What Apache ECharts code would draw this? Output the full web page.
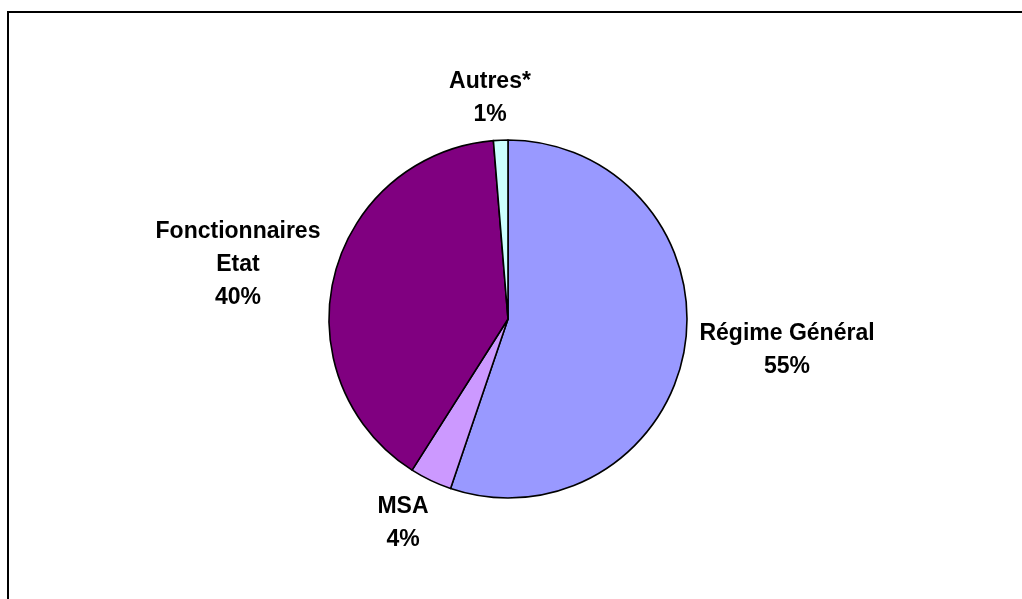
<!DOCTYPE html>
<html>
<head>
<meta charset="utf-8">
<script src="https://cdn.jsdelivr.net/npm/echarts@6/dist/echarts.min.js"></script>
<style>
  html, body { margin: 0; padding: 0; background: #fff; }
  #chart { width: 1022px; height: 599px; }
</style>
</head>
<body>
<div id="chart"></div>
<script>
// Répartition par régime
const categories = ['Régime Général', 'MSA', 'Fonctionnaires\nEtat', 'Autres*'];
const values = [55.2, 3.8, 39.7, 1.3];
const colors = ['#9999FF', '#CC99FF', '#800080', '#CCFFFF'];

// Label block centres (layout only)
const labelPos = [[787, 350], [403, 523], [238, 265], [490, 98]];

const chart = echarts.init(document.getElementById('chart'), null, { renderer: 'canvas' });

chart.setOption({
  animation: false,
  backgroundColor: '#ffffff',
  graphic: [{
    type: 'rect',
    shape: { x: 8, y: 12, width: 1040, height: 620 },
    style: { fill: 'none', stroke: '#000', lineWidth: 2 },
    silent: true
  }],
  series: [{
    type: 'pie',
    center: [508, 319],
    radius: 179,
    startAngle: 90,
    clockwise: true,
    data: categories.map((c, i) => ({ name: c, value: values[i], itemStyle: { color: colors[i] } })),
    itemStyle: { borderColor: '#000', borderWidth: 1.6 },
    label: {
      show: true,
      position: 'outside',
      formatter: p => p.name + '\n' + Math.round(p.percent) + '%',
      fontFamily: 'Liberation Sans, Arial, sans-serif',
      fontWeight: 'bold',
      fontSize: 23,
      lineHeight: 33,
      color: '#000',
      align: 'center'
    },
    labelLine: { show: false },
    labelLayout: p => ({
      x: labelPos[p.dataIndex][0],
      y: labelPos[p.dataIndex][1],
      align: 'center',
      verticalAlign: 'middle'
    }),
    emphasis: { disabled: true }
  }]
});
</script>
</body>
</html>
